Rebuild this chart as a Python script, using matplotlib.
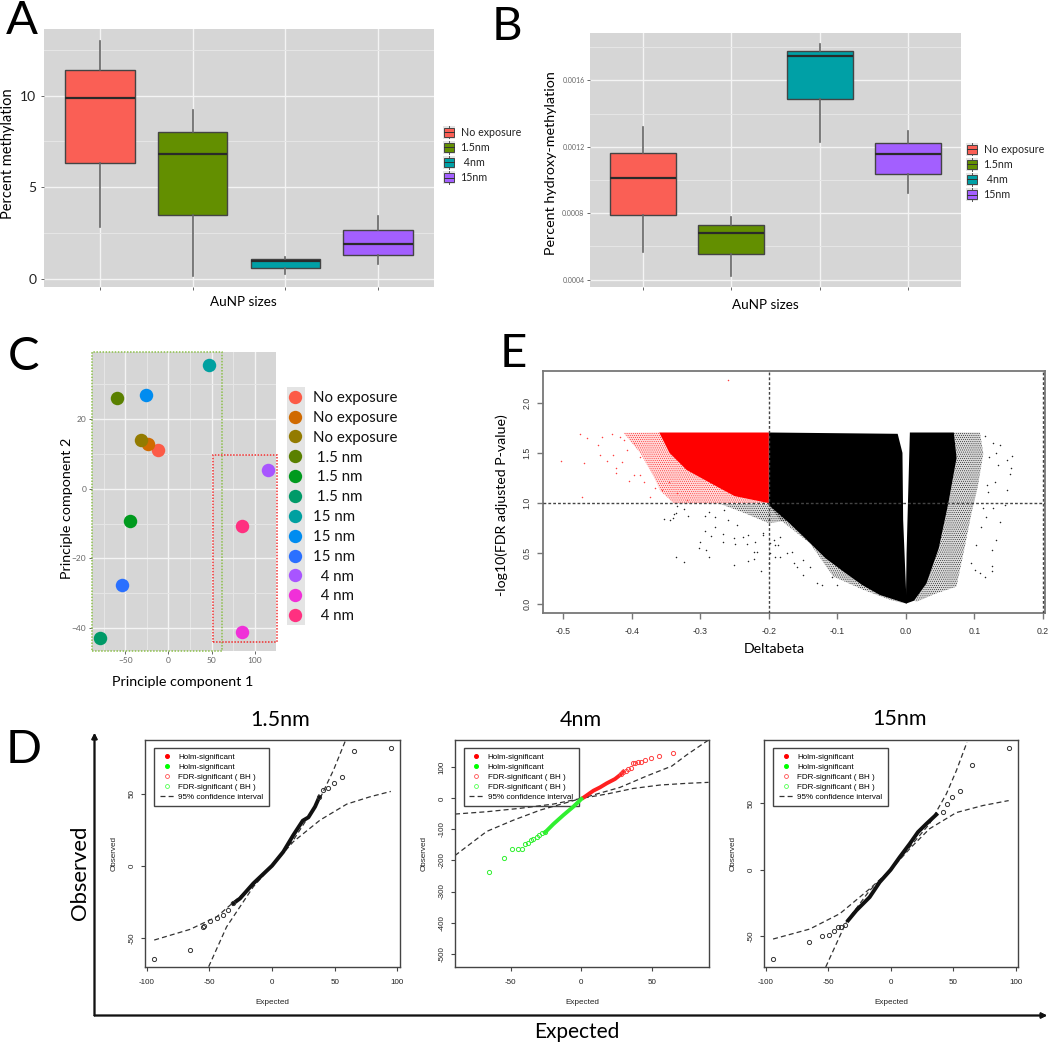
import matplotlib
matplotlib.use('Agg')
import matplotlib.pyplot as plt
from matplotlib.legend_handler import HandlerBase
from matplotlib.lines import Line2D
from matplotlib.patches import Patch, Rectangle

W, H = 1050, 1044
plt.rcParams['font.family'] = ['Lato', 'DejaVu Sans']
plt.rcParams['hatch.linewidth'] = 0.3

# Panel A / B boxplots: low whisker, q1, median, q3, high whisker
groups = ['No exposure', '1.5nm', ' 4nm', '15nm']
box_colors = ['#FA5F55', '#638F00', '#00A0A6', '#A35FFF']
a_low = [2.81, 0.15, 0.27, 0.82]
a_q1 = [6.33, 3.45, 0.58, 1.31]
a_med = [9.87, 6.80, 0.98, 1.88]
a_q3 = [11.42, 8.00, 1.08, 2.63]
a_high = [13.0, 9.2, 1.2, 3.41]
b_low = [0.000567, 0.000422, 0.001226, 0.000920]
b_q1 = [0.000788, 0.000553, 0.001485, 0.001037]
b_med = [0.001013, 0.000683, 0.001745, 0.001156]
b_q3 = [0.001164, 0.000728, 0.001777, 0.001224]
b_high = [0.001320, 0.000776, 0.001817, 0.001298]

# Panel C
pca_labels = ['No exposure', 'No exposure', 'No exposure', ' 1.5 nm', ' 1.5 nm', ' 1.5 nm',
              '15 nm', '15 nm', '15 nm', '  4 nm', '  4 nm', '  4 nm']
pca_x = [-12.7, -23.6, -31.3, -59.5, -44.4, -79.5, 47.5, -25.9, -53.3, 115, 85.7, 85.7]
pca_y = [11.07, 12.9, 13.8, 26.05, -9.16, -42.8, 35.3, 26.8, -27.7, 5.25, -41.1, -10.8]
pca_colors = ['#FC5B47', '#D06A00', '#937B00', '#5A8000', '#009A1E', '#009A68',
              '#00A0A0', '#008CF0', '#2A70FF', '#A855FF', '#F030D8', '#FF3080']

# Panel E: the dense cloud is drawn from outlines
solid_left_x = [-0.2, -0.012, -0.005, -0.004, -0.001, 0.001, -0.038, -0.064, -0.091, -0.117, -0.144,
                -0.170, -0.2]
solid_left_y = [1.703, 1.69, 1.5, 0.834, 0.335, 0.0, 0.086, 0.186, 0.318, 0.45, 0.63, 0.80, 0.98]
fringe_low_x = [-0.2, -0.170, -0.144, -0.117, -0.091, -0.064, -0.038, 0.0, -0.0233, -0.062, -0.106,
                -0.14, -0.1835]
fringe_low_y = [0.98, 0.80, 0.63, 0.45, 0.318, 0.186, 0.086, 0.0, 0.038, 0.137, 0.27, 0.6, 0.834]
fringe_far_x = [-0.27, -0.2, -0.17, -0.2, -0.235]
fringe_far_y = [0.99, 0.99, 0.83, 0.80, 0.90]
solid_right_x = [0.0058, 0.07, 0.074, 0.062, 0.048, 0.03, 0.012, 0.0, 0.001, 0.003]
solid_right_y = [1.703, 1.703, 1.45, 1.0, 0.55, 0.2, 0.03, 0.0, 0.5, 1.0]
fringe_right_x = [0.07, 0.108, 0.113, 0.105, 0.0957, 0.086, 0.0738, 0.0447, 0.0156, 0.012, 0.03,
                  0.048, 0.062, 0.074]
fringe_right_y = [1.703, 1.703, 1.497, 1.165, 0.9, 0.568, 0.169, 0.103, 0.02, 0.03, 0.2, 0.55, 1.0,
                  1.45]
red_solid_x = [-0.36, -0.2, -0.2, -0.25, -0.28, -0.32, -0.345]
red_solid_y = [1.703, 1.703, 1.0, 1.07, 1.18, 1.33, 1.5]
red_fringe_x = [-0.412, -0.36, -0.345, -0.32, -0.28, -0.25, -0.2, -0.339, -0.358, -0.368, -0.3875]
red_fringe_y = [1.70, 1.703, 1.5, 1.33, 1.18, 1.07, 1.0, 1.0, 1.12, 1.265, 1.498]
stray_x = [0.115, 0.127, 0.137, 0.155, 0.1476, 0.154, 0.1515, 0.1476, 0.1185, 0.137, 0.132, 0.125,
           0.125, 0.126, 0.115, 0.108, 0.1005, 0.0957, 0.110, 0.1175, 0.127, 0.1126, 0.144, 0.122,
           0.132, 0.1345, 0.1296, 0.12, 0.103,
           -0.335, -0.324, -0.2515, -0.211, -0.23, -0.288, -0.3025, -0.291, -0.30, -0.293, -0.279,
           -0.284, -0.267, -0.2675, -0.2515, -0.249, -0.232, -0.222, -0.2166, -0.2214, -0.3525,
           -0.344, -0.34, -0.339, -0.335, -0.334, -0.3234, -0.3186, -0.293, -0.288, -0.278, -0.266,
           -0.259, -0.2466, -0.237, -0.23, -0.22, -0.208, -0.193, -0.186, -0.198, -0.2,
           -0.1496, -0.13, -0.123, -0.108, -0.101, -0.164, -0.1835, -0.191, -0.198, -0.208, -0.191,
           -0.174, -0.159, -0.1665, -0.1496, -0.14, -0.1835]
stray_y = [1.670, 1.597, 1.58, 1.471, 1.425, 1.349, 1.292, 1.132, 1.182, 0.817, 0.634, 0.535, 0.375,
           0.329, 0.269, 0.303, 0.336, 0.408, 0.761, 0.867, 0.95, 0.95, 0.983, 1.464, 1.498, 1.381,
           1.215, 1.115, 0.585,
           0.468, 0.418, 0.385, 0.329, 0.428, 0.462, 0.552, 0.535, 0.617, 0.727, 0.761, 0.674,
           0.694, 0.611, 0.651, 0.594, 0.594, 0.517, 0.517, 0.442, 0.84, 0.834, 0.851, 0.893, 0.9,
           0.973, 0.94, 0.873, 0.873, 0.916, 0.866, 0.933, 0.834, 0.784, 0.667, 0.684, 0.617, 0.701,
           0.634, 0.585, 0.502, 0.402,
           0.286, 0.203, 0.186, 0.269, 0.186, 0.402, 0.468, 0.468, 0.601, 0.684, 0.585,
           0.502, 0.368, 0.517, 0.435, 0.368, 0.667]
red_stray_x = [-0.26, -0.503, -0.47, -0.475, -0.465, -0.472, -0.447, -0.449, -0.443, -0.436, -0.427,
               -0.4224, -0.4224, -0.414, -0.4035, -0.397, -0.388, -0.3826, -0.373, -0.3656, -0.356,
               -0.346, -0.334, -0.3195, -0.4287, -0.4166, -0.407, -0.3875, -0.412, -0.397]
red_stray_y = [2.225, 1.424, 1.398, 1.69, 1.647, 1.066, 1.481, 1.58, 1.657, 1.424, 1.481, 1.299,
               1.349, 1.414, 1.222, 1.282, 1.282, 1.209, 1.066, 1.149, 1.132, 1.215, 1.1, 1.033,
               1.69, 1.663, 1.531, 1.464, 1.63, 1.598]

# Panel D: qq points, dense runs and confidence curves
d15_x = [-93.9, -65.2, -54.8, -54.6, -49.5, -44, -39.4, -34.8, -30.9, 37.8, 40.4, 45, 49.5, 55.6, 65.4, 94.7]
d15_y = [-64.6, -58.6, -42.4, -41.6, -38.2, -36.6, -34.3, -30.8, -26.2, 47.9, 52.5, 54.2, 57.6, 61.8, 79.9, 81.7]
d15_run_x = [-30.9, -25.5, -14.9, 0, 9, 17, 24.5, 29, 34.3, 37.8]
d15_run_y = [-26.2, -22.7, -12.3, 0, 9.7, 21.3, 31.3, 33.6, 41, 47.9]
d15_ci1_x = [-93.9, -65.4, -44, -14.9, 0, 17, 38.3, 59.6, 78.2, 94.7]
d15_ci1_y = [-51.6, -44.2, -35.4, -13.4, 0, 16.7, 31.7, 42.8, 47.9, 51.6]
d15_ci2_x = [-50.5, -36.2, -14.9, 0, 17, 29, 38.3, 49, 58.5]
d15_ci2_y = [-70.1, -42.4, -14.6, 0, 17.8, 34, 46.8, 66.4, 86.8]

d4_red_x = [65.1, 55, 49, 45.3, 42.2, 40, 38, 36.3, 35.2, 33.3, 31.6, 29.2, 28.3]
d4_red_y = [147, 137.6, 129, 124.7, 117, 118, 115, 113, 99, 94, 87.5, 84, 78.5]
d4_red_run_x = [1.4, 8.5, 13.2, 17.9, 23.8, 27.4, 29.7]
d4_red_run_y = [2, 24.7, 35.5, 48.4, 62.4, 75.3, 86]
d4_green_x = [-65.1, -54.5, -49, -44.8, -42, -39.9, -38, -35.8, -33.9, -31.6, -29.7, -28, -25.7]
d4_green_y = [-236.6, -192.5, -164.5, -164.5, -162.4, -147, -145, -133, -131, -123.7, -117, -113, -108]
d4_green_run_x = [0, -5.7, -12.7, -19.8, -25.7]
d4_green_run_y = [-2, -26.9, -53.8, -82.8, -109.7]
d4_ci1_x = [-89.4, -67, -48, -29, 0, 27.4, 46.2, 64, 74.5, 90]
d4_ci1_y = [-184, -106.5, -70, -37.6, 0, 35.5, 72, 104, 140, 188]
d4_ci2_x = [-89.4, -67, -43.4, -19.8, 0, 18, 36.8, 55.7, 74.5, 90]
d4_ci2_y = [-50.5, -43, -32, -18.3, 0, 14, 32, 43, 48.4, 51.6]

d15nm_x = [-94, -65.5, -54.9, -49.3, -45, -41.8, -39.4, -36.8, 41.8, 45.3, 49, 55.1, 65, 94.3]
d15nm_y = [-67, -54.2, -49.8, -48.8, -46.3, -43, -43, -41.8, 43.5, 49.3, 54.8, 59.5, 79, 91.3]
d15nm_run_x = [-34, -27.4, -16.8, -8.8, 0, 7.2, 15.2, 21.8, 28.5, 36.5]
d15nm_run_y = [-38, -30.5, -20.5, -9.3, 0, 9.5, 19.5, 28.3, 34.5, 41.5]
d15nm_ci1_x = [-94, -64.7, -40.7, -16.8, 0, 15.2, 31, 52.5, 73.8, 94.3]
d15nm_ci1_y = [-52, -44.5, -33, -14.3, 0, 15.8, 30.8, 43, 48.3, 52]
d15nm_ci2_x = [-51.9, -35.4, -16.8, 0, 15.2, 31, 44.5, 52.5, 61]
d15nm_ci2_y = [-73, -39, -15.5, 0, 17, 34.5, 57, 74.5, 95.8]

qq_labels = ['Holm-significant', 'Holm-significant', 'FDR-significant ( BH )',
             'FDR-significant ( BH )', '95% confidence interval']

fig = plt.figure(figsize=(W / 100, H / 100), dpi=100)


def px_axes(l, t, r, b):
    return fig.add_axes([l / W, 1 - b / H, (r - l) / W, (b - t) / H])


def px_text(x, y, s, **kw):
    kw.setdefault('ha', 'center')
    kw.setdefault('va', 'center')
    return fig.text(x / W, 1 - y / H, s, **kw)


class BoxKey(HandlerBase):
    def create_artists(self, legend, orig, xd, yd, width, height, fontsize, trans):
        mid = height / 2 - yd
        bg = Rectangle((-xd, mid - 4.9), width, 9.8, fc='#E4E4E4', ec='none', transform=trans)
        box = Rectangle((-xd + 0.8, mid - 3), width - 1.6, 6, fc=orig.get_facecolor(), ec='#444444',
                        lw=0.7, transform=trans)
        whisk = Line2D([-xd + width / 2] * 2, [mid - 4.4, mid + 4.4], color='#555555', lw=0.7, transform=trans)
        med = Line2D([-xd + 0.8, -xd + width - 0.8], [mid, mid], color='#333333', lw=0.7, transform=trans)
        return [bg, whisk, box, med]


def gg_axes(ax, xmaj, xmin, ymaj, ymin):
    ax.set_facecolor('#D6D6D6')
    for s in ax.spines.values():
        s.set_visible(False)
    ax.set_xticks(xmaj)
    ax.set_xticks(xmin, minor=True)
    ax.set_yticks(ymaj)
    ax.set_yticks(ymin, minor=True)
    ax.grid(True, which='major', color='#F4F4F4', lw=1.0)
    ax.grid(True, which='minor', color='#E6E6E6', lw=0.7)
    ax.tick_params(which='minor', length=0)
    ax.tick_params(which='major', length=2.5, width=0.7, color='#666666')
    ax.set_axisbelow(True)


def box_panel(ax, low, q1, med, q3, high):
    stats = [{'whislo': low[i], 'q1': q1[i], 'med': med[i], 'q3': q3[i], 'whishi': high[i], 'fliers': []}
             for i in range(len(low))]
    art = ax.bxp(stats, positions=[1, 2, 3, 4], widths=0.75, patch_artist=True, showfliers=False,
                 showcaps=False, manage_ticks=False,
                 boxprops={'edgecolor': '#444444', 'linewidth': 1.0},
                 whiskerprops={'color': '#666666', 'linewidth': 1.2},
                 medianprops={'color': '#2A2A2A', 'linewidth': 1.6})
    for patch, c in zip(art['boxes'], box_colors):
        patch.set_facecolor(c)
    ax.set_xlim(0.4, 4.6)
    ax.set_xticklabels([])


def box_legend(ax, x, y):
    handles = [Patch(facecolor=c) for c in box_colors]
    ax.legend(handles, groups, loc='upper left', bbox_to_anchor=(x / W, 1 - y / H),
              bbox_transform=fig.transFigure, frameon=False, fontsize=7.7, borderpad=0, borderaxespad=0,
              labelspacing=0.38, handlelength=1.14, handleheight=1.0, handletextpad=0.5,
              handler_map={Patch: BoxKey()}, labelcolor='#222222')


# A
ax_a = px_axes(44, 29, 434, 287)
gg_axes(ax_a, [1, 2, 3, 4], [], [0, 5, 10], [2.5, 7.5, 12.5])
box_panel(ax_a, a_low, a_q1, a_med, a_q3, a_high)
ax_a.set_ylim(-0.46, 13.64)
ax_a.tick_params(axis='y', labelsize=10, labelcolor='#222222', pad=3)
box_legend(ax_a, 443, 127)
px_text(8, 154, 'Percent methylation', rotation=90, fontsize=10.5)
px_text(243, 302, 'AuNP sizes', fontsize=9.7)

# B
ax_b = px_axes(590, 33, 961, 287)
gg_axes(ax_b, [1, 2, 3, 4], [], [0.0004, 0.0008, 0.0012, 0.0016], [0.0006, 0.0010, 0.0014, 0.0018])
box_panel(ax_b, b_low, b_q1, b_med, b_q3, b_high)
ax_b.set_ylim(0.000356, 0.001885)
ax_b.set_yticklabels(['0.0004', '0.0008', '0.0012', '0.0016'])
ax_b.tick_params(axis='y', labelsize=5, labelcolor='#666666', pad=1.5)
box_legend(ax_b, 966, 144)
px_text(551, 163, 'Percent hydroxy-methylation', rotation=90, fontsize=10.3)
px_text(765, 305, 'AuNP sizes', fontsize=9.7)

# C
ax_c = px_axes(91.7, 351.7, 276, 651)
gg_axes(ax_c, [-50, 0, 50, 100], [-75, -25, 25, 75], [-40, -20, 0, 20], [-30, -10, 10, 30])
ax_c.set_xlim(-89, 124.7)
ax_c.set_ylim(-46.5, 39.2)
ax_c.tick_params(axis='both', labelsize=6, labelcolor='#666666', pad=1.5)
for i in range(len(pca_x)):
    ax_c.scatter(pca_x[i], pca_y[i], s=94, color=pca_colors[i], linewidths=0, zorder=3)
ax_c.add_patch(Rectangle((-89, -46.5), 151, 85.5, fill=False, ec='#8CBF4A', ls=(0, (1, 1)), lw=1.1,
                         zorder=4, clip_on=False))
ax_c.add_patch(Rectangle((51.4, -43.9), 74.6, 53.6, fill=False, ec='#F03030', ls=(0, (1, 1)), lw=1.1,
                         zorder=4, clip_on=False))
fig.add_artist(Rectangle((287 / W, 1 - 625 / H), 18 / W, 238.5 / H, fc='#E4E4E4', ec='none',
                         transform=fig.transFigure, zorder=-1))
c_handles = [Line2D([], [], ls='', marker='o', ms=9.6, mfc=c, mec='none') for c in pca_colors]
ax_c.legend(c_handles, pca_labels, loc='upper left', bbox_to_anchor=(286 / W, 1 - 391 / H),
            bbox_transform=fig.transFigure, frameon=False, fontsize=10.8, borderpad=0, borderaxespad=0,
            labelspacing=0.39, handlelength=1.25, handletextpad=0.55, labelcolor='#111111')
px_text(67, 508, 'Principle component 2', rotation=90, fontsize=10.3)
px_text(183, 682, 'Principle component 1', fontsize=10.3)

# E
ax_e = px_axes(542.7, 371, 1045, 613.3)
ax_e.set_xlim(-0.53, 0.203)
ax_e.set_ylim(-0.096, 2.315)
hatch_dots = '.' * 8
ax_e.fill(solid_left_x, solid_left_y, color='black', lw=0, zorder=2)
ax_e.fill(solid_right_x, solid_right_y, color='black', lw=0, zorder=2)
for fx, fy in [(fringe_low_x, fringe_low_y), (fringe_far_x, fringe_far_y), (fringe_right_x, fringe_right_y)]:
    ax_e.fill(fx, fy, facecolor=(0, 0, 0, 0.15), edgecolor='black', hatch=hatch_dots, lw=0, zorder=1)
ax_e.fill(red_solid_x, red_solid_y, color='#FF0000', lw=0, zorder=2)
ax_e.fill(red_fringe_x, red_fringe_y, facecolor=(1, 0, 0, 0.15), edgecolor='#FF0000', hatch=hatch_dots, lw=0, zorder=1)
ax_e.scatter(stray_x, stray_y, s=1.2, color='#222222', linewidths=0, zorder=3)
ax_e.scatter(red_stray_x, red_stray_y, s=1.2, color='#FF4040', linewidths=0, zorder=3)
ax_e.axhline(1.0, color='#444444', ls=(0, (2, 1.5)), lw=1, zorder=4)
ax_e.axvline(-0.2, color='#444444', ls=(0, (2, 1.5)), lw=1, zorder=4)
ax_e.axvline(0.2, color='#444444', ls=(0, (2, 1.5)), lw=1, zorder=4)
for s in ax_e.spines.values():
    s.set_color('#777777')
    s.set_linewidth(1.3)
ax_e.set_xticks([-0.5, -0.4, -0.3, -0.2, -0.1, 0.0, 0.1, 0.2])
ax_e.set_xticklabels(['-0.5', '-0.4', '-0.3', '-0.2', '-0.1', '0.0', '0.1', '0.2'],
                     family='Liberation Sans', fontsize=6.3, color='#333333')
ax_e.set_yticks([0.0, 0.5, 1.0, 1.5, 2.0])
ax_e.set_yticklabels(['0.0', '0.5', '1.0', '1.5', '2.0'], rotation=90, va='center',
                     family='Liberation Sans', fontsize=6.3, color='#333333')
ax_e.tick_params(length=4, width=1, color='#777777')
ax_e.tick_params(axis='x', pad=6)
ax_e.tick_params(axis='y', pad=4)
px_text(502, 505, '-log10(FDR adjusted P-value)', rotation=90, fontsize=10.2)
px_text(774.5, 649, 'Deltabeta', fontsize=10.2)


# D
def qq_panel(box, xlim, ylim, xticks, yticks, ci1, ci2, legend_at):
    ax = px_axes(*box)
    ax.set_xlim(*xlim)
    ax.set_ylim(*ylim)
    for s in ax.spines.values():
        s.set_color('#444444')
        s.set_linewidth(1.0)
    ax.set_xticks(xticks)
    ax.set_xticklabels([str(t) for t in xticks], family='Liberation Sans', fontsize=5.8, color='#222222')
    ax.set_yticks(yticks)
    ax.set_yticklabels([str(t) for t in yticks], rotation=90, va='center', family='Liberation Sans',
                       fontsize=5.8, color='#222222')
    ax.tick_params(length=3, width=0.8, color='#444444')
    ax.tick_params(axis='x', pad=6)
    ax.tick_params(axis='y', pad=4)
    ax.set_xlabel('Expected', family='Liberation Sans', fontsize=5.9, color='#222222', labelpad=9)
    ax.set_ylabel('Observed', family='Liberation Sans', fontsize=5.9, color='#222222', labelpad=8)
    for cx, cy in (ci1, ci2):
        ax.plot(cx, cy, color='#333333', ls=(0, (4, 2.5)), lw=0.9, zorder=2)
    handles = [Line2D([], [], ls='', marker='o', ms=2.6, color='#FF0000'),
               Line2D([], [], ls='', marker='o', ms=2.6, color='#00FF00'),
               Line2D([], [], ls='', marker='o', ms=2.8, mfc='none', mec='#FF5050', mew=0.6),
               Line2D([], [], ls='', marker='o', ms=2.8, mfc='none', mec='#50FF50', mew=0.6),
               Line2D([], [], color='#333333', ls=(0, (4, 2.5)), lw=0.9)]
    leg = ax.legend(handles, qq_labels, loc='upper left', bbox_to_anchor=legend_at,
                    prop={'family': 'Liberation Sans', 'size': 5.75}, fancybox=False, framealpha=1,
                    edgecolor='#444444', borderaxespad=0, borderpad=0.7, labelspacing=0.3,
                    handlelength=1.75, handletextpad=0.55)
    leg.get_frame().set_linewidth(1.0)
    leg.set_zorder(1)
    return ax


def qq_points(ax, x, y, color='#333333'):
    ax.plot(x, y, ls='', marker='o', ms=3, mfc='none', mec=color, mew=0.7, zorder=3)


ax_d1 = qq_panel((145.3, 740, 400, 966.7), (-101, 102), (-70.1, 87.3), [-100, -50, 0, 50, 100], [-50, 0, 50],
                 (d15_ci1_x, d15_ci1_y), (d15_ci2_x, d15_ci2_y), (0.035, 0.966))
ax_d1.plot(d15_run_x, d15_run_y, color='#111111', lw=2.8, zorder=3)
qq_points(ax_d1, d15_x, d15_y)

ax_d2 = qq_panel((455, 740, 708.7, 967), (-89.4, 90.1), (-543, 188), [-50, 0, 50],
                 [-500, -400, -300, -200, -100, 0, 100],
                 (d4_ci1_x, d4_ci1_y), (d4_ci2_x, d4_ci2_y), (0.035, 0.966))
ax_d2.plot(d4_red_run_x, d4_red_run_y, color='#FF2020', lw=2.8, zorder=3)
ax_d2.plot(d4_green_run_x, d4_green_run_y, color='#30F030', lw=2.8, zorder=3)
qq_points(ax_d2, d4_red_x, d4_red_y, '#FF4040')
qq_points(ax_d2, d4_green_x, d4_green_y, '#30F030')

ax_d3 = qq_panel((764.3, 740, 1018.3, 967), (-101, 102), (-73, 97.5), [-100, -50, 0, 50, 100], [-50, 0, 50],
                 (d15nm_ci1_x, d15nm_ci1_y), (d15nm_ci2_x, d15nm_ci2_y), (0.035, 0.966))
ax_d3.plot(d15nm_run_x, d15nm_run_y, color='#111111', lw=2.8, zorder=3)
qq_points(ax_d3, d15nm_x, d15nm_y)

px_text(280, 720, '1.5nm', fontsize=15.5)
px_text(581, 720, '4nm', fontsize=15.5)
px_text(900, 719, '15nm', fontsize=15.5)

# big arrows around panel D
arrow = dict(arrowstyle='-|>', color='#111111', lw=1.3, mutation_scale=8, shrinkA=0, shrinkB=0)
fig.add_artist(plt.annotate('', xy=(94.5 / W, 1 - 733 / H), xytext=(94.5 / W, 1 - 1015.5 / H),
                            xycoords='figure fraction', textcoords='figure fraction', arrowprops=arrow))
fig.add_artist(plt.annotate('', xy=(1047 / W, 1 - 1015.5 / H), xytext=(94.5 / W, 1 - 1015.5 / H),
                            xycoords='figure fraction', textcoords='figure fraction', arrowprops=arrow))
px_text(80, 873, 'Observed', rotation=90, fontsize=15.8)
px_text(577, 1032, 'Expected', fontsize=15)

# panel letters, placed on their baselines
for letter, lx, base in [('A', 22, 34), ('B', 507, 40), ('C', 23, 370), ('D', 24, 763), ('E', 513, 367)]:
    px_text(lx, base, letter, fontsize=34, color='black', va='baseline')

fig.savefig('out.png', dpi=100)
